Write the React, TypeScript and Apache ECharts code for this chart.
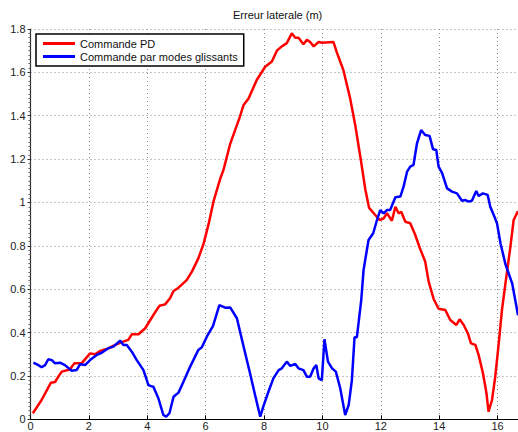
import React, { useEffect, useRef } from "react";
import * as echarts from "echarts";

const titleText = "Erreur laterale (m)";
const seriesNames = ["Commande PD", "Commande par modes glissants"];

const redX = [0.08, 0.38, 0.7, 0.84, 0.95, 1.07, 1.35, 1.5, 1.75, 2.04, 2.21, 2.38, 2.67, 2.9, 3.18, 3.35, 3.47, 3.7, 3.93, 4.21, 4.42, 4.61, 4.78, 4.9, 5.07, 5.35, 5.53, 5.75, 5.93, 6.1, 6.27, 6.5, 6.61, 6.84, 7.16, 7.3, 7.47, 7.75, 8.04, 8.27, 8.44, 8.61, 8.78, 8.95, 9.07, 9.18, 9.35, 9.47, 9.58, 9.7, 9.87, 9.98, 10.38, 10.5, 10.72, 10.95, 11.12, 11.3, 11.47, 11.6, 11.81, 11.96, 12.1, 12.21, 12.38, 12.5, 12.61, 12.7, 12.84, 13.01, 13.18, 13.35, 13.52, 13.64, 13.81, 13.98, 14.21, 14.38, 14.59, 14.7, 14.84, 14.98, 15.09, 15.24, 15.35, 15.5, 15.62, 15.69, 15.81, 15.92, 16.04, 16.15, 16.27, 16.44, 16.55, 16.7];
const redY = [0.028, 0.089, 0.169, 0.172, 0.196, 0.22, 0.23, 0.258, 0.258, 0.304, 0.3, 0.315, 0.327, 0.343, 0.358, 0.366, 0.392, 0.392, 0.42, 0.481, 0.524, 0.53, 0.558, 0.592, 0.607, 0.642, 0.681, 0.742, 0.81, 0.9, 1.005, 1.11, 1.15, 1.27, 1.39, 1.45, 1.48, 1.565, 1.626, 1.65, 1.7, 1.72, 1.735, 1.78, 1.76, 1.76, 1.73, 1.75, 1.74, 1.72, 1.74, 1.737, 1.74, 1.69, 1.61, 1.48, 1.36, 1.21, 1.06, 0.975, 0.942, 0.919, 0.927, 0.95, 0.916, 0.98, 0.95, 0.957, 0.911, 0.904, 0.85, 0.785, 0.728, 0.635, 0.555, 0.51, 0.504, 0.458, 0.435, 0.461, 0.435, 0.397, 0.35, 0.343, 0.297, 0.212, 0.12, 0.035, 0.089, 0.196, 0.35, 0.504, 0.627, 0.796, 0.919, 0.96];

const blueX = [0.1, 0.27, 0.38, 0.5, 0.61, 0.73, 0.84, 1.01, 1.18, 1.41, 1.58, 1.7, 1.87, 2.04, 2.27, 2.44, 2.65, 2.84, 3.07, 3.18, 3.3, 3.47, 3.64, 3.87, 4.04, 4.13, 4.21, 4.38, 4.55, 4.65, 4.76, 4.9, 5.07, 5.24, 5.47, 5.75, 5.87, 6.04, 6.25, 6.47, 6.67, 6.84, 7.07, 7.3, 7.52, 7.7, 7.87, 7.98, 8.15, 8.32, 8.5, 8.61, 8.78, 8.9, 9.07, 9.18, 9.35, 9.47, 9.58, 9.7, 9.79, 9.87, 9.98, 10.07, 10.19, 10.33, 10.46, 10.61, 10.78, 10.9, 11.01, 11.1, 11.18, 11.33, 11.41, 11.58, 11.74, 11.87, 11.98, 12.1, 12.21, 12.32, 12.5, 12.67, 12.78, 12.9, 13.01, 13.12, 13.24, 13.38, 13.52, 13.67, 13.79, 13.9, 13.98, 14.1, 14.27, 14.44, 14.61, 14.78, 14.9, 15.01, 15.12, 15.27, 15.35, 15.5, 15.66, 15.75, 15.89, 15.98, 16.1, 16.27, 16.5, 16.7];
const blueY = [0.261, 0.25, 0.24, 0.25, 0.277, 0.273, 0.258, 0.261, 0.25, 0.224, 0.227, 0.254, 0.25, 0.273, 0.297, 0.307, 0.327, 0.335, 0.363, 0.343, 0.343, 0.312, 0.273, 0.227, 0.158, 0.153, 0.15, 0.097, 0.02, 0.012, 0.028, 0.104, 0.123, 0.173, 0.243, 0.32, 0.332, 0.381, 0.43, 0.527, 0.515, 0.516, 0.466, 0.335, 0.212, 0.108, 0.012, 0.061, 0.127, 0.189, 0.227, 0.235, 0.266, 0.246, 0.255, 0.235, 0.227, 0.196, 0.196, 0.235, 0.25, 0.189, 0.181, 0.369, 0.266, 0.235, 0.22, 0.143, 0.02, 0.066, 0.181, 0.378, 0.378, 0.55, 0.689, 0.827, 0.858, 0.919, 0.965, 0.95, 0.965, 0.965, 1.024, 1.027, 1.073, 1.142, 1.165, 1.173, 1.273, 1.334, 1.311, 1.307, 1.245, 1.242, 1.165, 1.135, 1.065, 1.05, 1.042, 1.008, 1.011, 1.004, 1.008, 1.053, 1.03, 1.042, 1.035, 0.98, 0.935, 0.904, 0.812, 0.715, 0.627, 0.48];

const xMin = 0;
const xMax = 16.7;
const xStep = 2;
const yMin = 0;
const yMax = 1.8;
const yStep = 0.2;

const FONT = "'Liberation Sans', Arial, sans-serif";

export default function App() {
  const ref = useRef<HTMLDivElement>(null);
  useEffect(() => {
    if (!ref.current) return;
    const chart = echarts.init(ref.current, undefined, { renderer: "svg" });
    const gridLine = { show: true, lineStyle: { color: "#8a8a8a", width: 1, type: [1, 3] as any } };
    chart.setOption({
      animation: false,
      backgroundColor: "#ffffff",
      textStyle: { fontFamily: FONT },
      title: {
        text: titleText,
        left: 233,
        top: 9,
        padding: 0,
        textStyle: { fontSize: 11, fontWeight: "normal", color: "#111", fontFamily: FONT },
      },
      legend: {
        orient: "vertical",
        left: 36,
        top: 34,
        padding: [3, 6, 3, 7],
        itemGap: 0,
        itemWidth: 32,
        itemHeight: 3,
        icon: "rect",
        backgroundColor: "#ffffff",
        borderColor: "#000000",
        borderWidth: 1.5,
        borderRadius: 0,
        textStyle: { fontSize: 11, color: "#111", fontFamily: FONT, padding: [0, 0, 0, 0], lineHeight: 13 },
        data: seriesNames,
      },
      grid: { left: 30.5, right: 0, top: 29, bottom: 12.7, containLabel: false, outerBoundsMode: "none" },
      xAxis: {
        type: "value",
        min: xMin,
        max: xMax,
        interval: xStep,
        axisLine: { show: true, onZero: false, lineStyle: { color: "#000", width: 1.2 } },
        axisTick: { show: true, inside: true, length: 4, lineStyle: { color: "#000" } },
        axisLabel: { fontSize: 11, lineHeight: 11, color: "#222", margin: 1, fontFamily: FONT, showMaxLabel: false },
        splitLine: gridLine,
      },
      yAxis: {
        type: "value",
        min: yMin,
        max: yMax,
        interval: yStep,
        axisLine: { show: true, onZero: false, lineStyle: { color: "#333", width: 1.2 } },
        axisTick: { show: true, inside: false, length: 3, lineStyle: { color: "#333" } },
        minorTick: { show: true, splitNumber: 10, length: 2, lineStyle: { color: "#666" } },
        axisLabel: { fontSize: 11, color: "#222", margin: 5, fontFamily: FONT },
        splitLine: gridLine,
      },
      series: [
        {
          name: seriesNames[0],
          type: "line",
          data: redX.map((x, i) => [x, redY[i]]),
          showSymbol: false,
          symbol: "none",
          clip: true,
          lineStyle: { color: "#ff0000", width: 2.5 },
          itemStyle: { color: "#ff0000" },
        },
        {
          name: seriesNames[1],
          type: "line",
          data: blueX.map((x, i) => [x, blueY[i]]),
          showSymbol: false,
          symbol: "none",
          clip: true,
          lineStyle: { color: "#0000ff", width: 2.5 },
          itemStyle: { color: "#0000ff" },
        },
      ],
    });
    return () => chart.dispose();
  }, []);
  return (
    <div
      ref={ref}
      style={{ position: "fixed", left: 0, top: 0, width: 518, height: 432 }}
    />
  );
}
